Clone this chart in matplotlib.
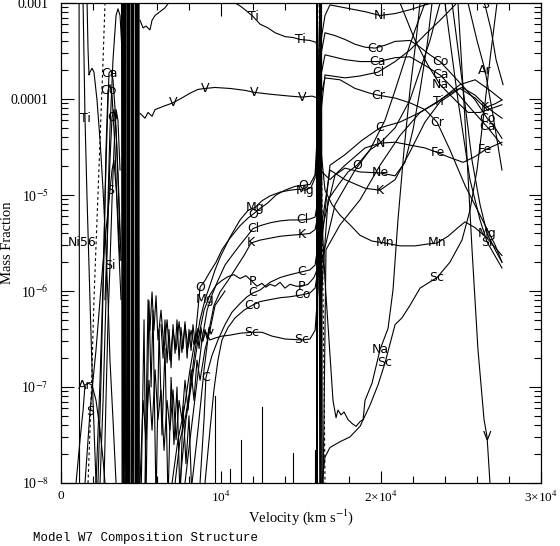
import numpy as np
import matplotlib
matplotlib.use("Agg")
import matplotlib.pyplot as plt
from matplotlib.ticker import FixedLocator, MultipleLocator, LogLocator, NullFormatter

nan = np.nan

# points are (velocity in 1000 km/s, log10 mass fraction); (nan, nan) breaks a line
ti_pts = [(1.38, -3.0), (1.44, -3.59), (1.5, -4.2), (1.63, -5.05), (1.81, -6.09), (2.0, -7.14), (2.19, -8.0), (nan, nan),
          (4.94, -3.18), (5.13, -3.26), (5.31, -3.24), (5.56, -3.28), (5.69, -3.18), (5.88, -3.13), (6.19, -3.09),
          (6.5, -3.05), (6.81, -2.98), (7.13, -2.9), (10.56, -2.9), (10.88, -3.0), (11.19, -3.03), (11.5, -3.07),
          (12.0, -3.14), (12.44, -3.22), (12.94, -3.26), (13.38, -3.31), (14.0, -3.35), (14.5, -3.36), (14.94, -3.38),
          (15.56, -3.39), (15.94, -3.41), (16.06, -3.49), (16.13, -4.32), (16.19, -6.09), (16.25, -8.2), (nan, nan),
          (16.38, -8.1), (16.56, -5.57), (17.44, -5.31), (18.69, -5.05), (19.94, -4.69), (21.19, -4.38), (22.44, -4.14),
          (23.56, -4.03), (24.94, -3.85), (25.88, -3.80), (26.81, -3.91), (27.56, -4.01)]
ti_lab = [1.5, 12.0, 14.94, 23.56]

v_pts = [(4.94, -4.15), (5.25, -4.2), (5.44, -4.14), (5.69, -4.18), (5.88, -4.11), (6.19, -4.09), (6.5, -4.07),
         (7.0, -4.04), (7.44, -4.0), (8.06, -3.94), (8.56, -3.9), (9.0, -3.89), (9.63, -3.88), (10.56, -3.89),
         (11.5, -3.91), (12.06, -3.93), (13.06, -3.95), (14.31, -3.97), (15.06, -3.98), (15.69, -3.97), (16.06, -3.99),
         (16.13, -5.05), (16.19, -8.0), (16.25, -8.4), (nan, nan),
         (24.81, -3.0), (25.25, -4.22), (25.69, -5.57), (26.06, -6.61), (26.44, -7.34), (26.63, -7.52), (26.81, -8.0)]
v_lab = [7.0, 9.0, 12.06, 15.06, 26.63]

mg_pts = [(7.13, -8.0), (7.44, -7.55), (7.75, -7.34), (8.06, -7.03), (8.38, -6.61), (8.69, -6.30), (9.0, -6.09),
          (9.31, -5.94), (9.63, -5.78), (9.94, -5.65), (10.56, -5.44), (11.19, -5.26), (11.69, -5.16), (12.13, -5.13),
          (12.56, -5.06), (13.06, -5.01), (13.69, -4.97), (14.31, -4.95), (14.81, -4.94), (15.25, -4.95), (15.63, -4.92),
          (15.88, -4.82), (16.06, -4.43), (16.13, -3.49), (16.19, -2.9), (nan, nan),
          (24.44, -3.0), (25.06, -3.80), (25.69, -4.64), (26.19, -5.10), (26.63, -5.40), (27.13, -5.57), (27.56, -5.70)]
mg_lab = [9.0, 12.13, 15.25, 26.63]

o_pts = [(2.75, -6.09), (2.94, -5.26), (3.06, -4.64), (3.19, -4.19), (3.31, -4.11), (3.44, -4.32), (3.56, -4.84),
         (3.69, -5.47), (nan, nan),
         (6.94, -8.0), (7.31, -7.55), (7.69, -7.24), (8.06, -6.82), (8.38, -6.51), (8.69, -5.96), (9.0, -5.89),
         (9.31, -5.80), (9.69, -5.70), (10.06, -5.57), (10.56, -5.45), (11.19, -5.32), (11.69, -5.24), (12.0, -5.20),
         (12.44, -5.14), (12.94, -5.08), (13.44, -5.0), (14.0, -4.95), (14.63, -4.91), (15.13, -4.90), (15.56, -4.89),
         (15.88, -4.79), (16.06, -4.22), (16.13, -3.39), (16.19, -2.9), (nan, nan),
         (16.22, -8.1), (16.25, -6.09), (16.69, -5.05), (17.31, -4.90), (17.94, -4.76), (18.5, -4.69), (19.31, -4.53),
         (20.25, -4.22), (20.88, -3.91), (21.5, -3.59), (22.13, -3.28), (22.75, -3.0)]
o_lab = [3.19, 8.69, 12.0, 15.13, 18.5]

cl_pts = [(7.75, -8.0), (8.06, -7.55), (8.44, -7.03), (8.81, -6.51), (9.13, -6.20), (9.44, -6.04), (9.81, -5.89),
          (10.25, -5.73), (10.69, -5.63), (11.19, -5.52), (11.63, -5.43), (12.0, -5.35), (12.44, -5.32), (13.06, -5.29),
          (13.69, -5.27), (14.31, -5.26), (15.06, -5.26), (15.56, -5.25), (15.88, -5.23), (16.06, -5.05), (16.13, -4.01),
          (16.19, -4.22), (16.5, -3.75), (17.75, -3.78), (18.69, -3.76), (19.81, -3.72), (20.88, -3.61), (21.81, -3.49),
          (22.75, -3.33), (23.69, -3.18), (24.63, -3.02), (24.94, -2.92)]
cl_lab = [12.0, 15.06, 19.81]

k_pts = [(8.19, -8.0), (8.56, -7.45), (8.94, -6.82), (9.25, -6.41), (9.56, -6.15), (9.94, -6.01), (10.44, -5.89),
         (10.94, -5.76), (11.44, -5.63), (11.88, -5.5), (12.44, -5.47), (13.06, -5.45), (13.69, -5.43), (14.31, -5.42),
         (15.06, -5.41), (15.56, -5.40), (15.88, -5.36), (16.06, -5.21), (16.13, -4.22), (16.19, -3.5), (16.25, -5.36),
         (16.81, -4.74), (17.75, -4.84), (19.0, -4.93), (19.94, -4.95), (20.88, -4.84), (21.81, -4.55), (22.75, -4.24),
         (23.69, -4.03), (24.94, -3.89), (25.88, -3.99), (26.5, -4.09), (27.13, -4.05), (27.56, -4.01)]
k_lab = [11.88, 15.06, 19.94, 26.5]

p_pts = [(7.44, -8.0), (7.81, -7.34), (8.19, -6.93), (8.56, -6.51), (8.94, -6.20), (9.31, -6.04), (9.69, -5.94),
         (10.06, -5.89), (10.44, -5.85), (10.81, -5.83), (11.19, -5.87), (11.56, -5.84), (11.94, -5.90), (12.25, -5.95),
         (12.56, -5.92), (12.81, -5.96), (13.06, -5.93), (13.38, -5.95), (13.69, -5.91), (14.0, -5.97), (14.31, -5.93),
         (14.69, -5.95), (15.06, -5.95), (15.44, -5.93), (15.81, -5.86), (16.0, -5.78), (16.13, -4.53), (16.19, -3.6)]
p_lab = [11.94, 15.06]

c_pts = [(8.69, -8.0), (8.94, -7.34), (9.06, -6.90), (9.44, -6.67), (9.81, -6.51), (10.25, -6.35), (10.69, -6.22),
         (11.19, -6.13), (11.63, -6.06), (12.0, -6.02), (12.44, -5.99), (13.06, -5.91), (13.69, -5.86), (14.31, -5.83),
         (15.06, -5.80), (15.56, -5.78), (15.88, -5.73), (16.06, -5.52), (16.13, -4.53), (16.19, -3.8), (16.25, -5.57),
         (16.81, -4.69), (17.75, -4.58), (18.81, -4.43), (19.94, -4.30), (21.19, -4.24), (22.44, -4.14), (23.69, -4.01),
         (24.63, -3.91), (25.06, -3.88), (25.88, -3.96), (26.81, -4.11), (27.56, -4.20)]
c_lab = [9.06, 12.0, 15.06, 19.94]

co_pts = [(2.31, -8.0), (2.5, -6.93), (2.69, -5.57), (2.81, -4.53), (2.94, -3.91), (3.06, -3.85), (3.19, -3.96),
          (3.38, -4.53), (3.56, -5.36), (3.75, -6.09), (nan, nan),
          (9.0, -8.0), (9.31, -7.45), (9.56, -7.03), (9.81, -6.72), (10.06, -6.51), (10.44, -6.38), (10.88, -6.28),
          (11.44, -6.20), (11.94, -6.15), (12.44, -6.11), (13.06, -6.09), (13.69, -6.07), (14.31, -6.06), (15.06, -6.04),
          (15.56, -6.02), (15.88, -5.97), (16.06, -5.78), (16.13, -4.53), (16.19, -3.59), (16.5, -3.31), (17.13, -3.34),
          (17.75, -3.38), (18.38, -3.43), (19.0, -3.46), (19.63, -3.47), (20.25, -3.44), (20.88, -3.40), (21.81, -3.39),
          (22.44, -3.46), (23.06, -3.54), (23.69, -3.61), (24.31, -3.72), (25.25, -3.89), (25.88, -4.01), (26.63, -4.20),
          (27.13, -4.30), (27.56, -4.41)]
co_lab = [2.94, 11.94, 15.06, 19.63, 23.69, 26.63]

sc_pts = [(5.25, -8.0), (5.44, -6.09), (5.56, -6.41), (5.69, -6.01), (5.81, -6.41), (5.94, -6.05), (6.06, -6.51),
          (6.25, -6.20), (6.44, -6.61), (6.63, -6.30), (6.81, -6.72), (7.0, -6.41), (7.19, -6.61), (7.38, -6.32),
          (7.56, -6.64), (7.75, -6.35), (7.94, -6.59), (8.13, -6.41), (8.31, -6.56), (8.56, -6.39), (8.81, -6.53),
          (9.06, -6.43), (9.31, -6.51), (9.63, -6.49), (10.06, -6.47), (10.56, -6.46), (11.19, -6.44), (11.94, -6.43),
          (12.56, -6.43), (13.19, -6.47), (14.0, -6.50), (15.06, -6.51), (15.56, -6.50), (15.88, -6.41), (16.06, -5.99),
          (16.13, -5.05), (16.19, -8.1), (nan, nan),
          (16.31, -8.0), (16.5, -7.73), (16.81, -7.63), (17.44, -7.57), (18.06, -7.52), (18.69, -7.41), (19.31, -7.19),
          (19.81, -6.98), (20.25, -6.75), (20.88, -6.35), (21.31, -6.28), (21.81, -6.15), (22.44, -5.97), (23.5, -5.86),
          (24.31, -5.70), (25.06, -5.47), (25.56, -5.16), (26.0, -4.74), (26.38, -4.22), (26.81, -3.59), (27.25, -3.0)]
sc_lab = [11.94, 15.06, 20.25, 23.5]

na_pts = [(16.25, -5.05), (16.5, -5.89), (16.75, -6.51), (17.0, -7.14), (17.19, -7.32), (17.31, -7.24), (17.5, -7.29),
          (17.69, -7.26), (17.94, -7.34), (18.19, -7.38), (18.44, -7.41), (18.69, -7.36), (18.88, -7.34), (19.0, -7.14),
          (19.44, -6.96), (19.94, -6.61), (20.44, -6.39), (20.75, -5.99), (21.06, -5.26), (21.44, -4.53), (21.81, -3.91),
          (22.19, -3.39), (22.44, -3.0), (nan, nan),
          (21.19, -3.0), (22.13, -3.39), (22.94, -3.65), (23.69, -3.85), (24.63, -4.01), (25.44, -4.14), (26.19, -4.14),
          (27.56, -4.06)]
na_lab = [19.94, 23.69]

ni_pts = [(2.44, -8.0), (2.63, -7.14), (2.81, -6.09), (2.94, -5.05), (3.06, -4.32), (3.25, -3.59), (3.44, -3.13),
          (3.56, -3.06), (3.69, -3.13), (3.81, -3.49), (nan, nan),
          (16.25, -3.39), (16.5, -3.13), (16.81, -3.02), (17.75, -3.05), (19.0, -3.09), (19.94, -3.13), (20.88, -3.11),
          (21.81, -3.07), (22.75, -3.02), (23.19, -3.0), (23.69, -2.92)]
ni_lab = [19.94]

ca_pts = [(2.19, -8.0), (2.44, -6.93), (2.63, -5.89), (2.75, -5.05), (2.88, -4.32), (3.0, -3.73), (3.13, -3.70),
          (3.25, -3.80), (3.38, -4.11), (3.5, -4.53), (3.63, -5.05), (3.75, -5.68), (nan, nan),
          (16.19, -3.80), (16.5, -3.54), (17.75, -3.59), (18.69, -3.61), (19.81, -3.61), (20.88, -3.57), (21.81, -3.56),
          (22.75, -3.65), (23.69, -3.75), (24.63, -3.91), (25.56, -4.09), (26.63, -4.29), (27.56, -4.48)]
ca_lab = [3.0, 19.81, 23.69, 26.63]

cr_pts = [(1.63, -3.0), (1.69, -3.49), (1.75, -3.75), (1.81, -3.72), (1.94, -3.68), (2.06, -3.72), (2.25, -4.01),
          (2.44, -4.43), (2.63, -4.95), (2.81, -5.57), (2.94, -6.09), (3.06, -6.72), (3.25, -7.34), (3.44, -8.0), (nan, nan),
          (16.19, -4.01), (16.5, -3.78), (17.44, -3.80), (18.38, -3.89), (19.31, -3.94), (19.81, -3.96), (20.88, -3.99),
          (21.81, -4.04), (22.75, -4.11), (23.5, -4.24), (24.31, -4.53), (25.25, -4.90), (26.19, -5.21), (27.13, -5.52),
          (27.56, -5.70)]
cr_lab = [19.81, 23.5]

fe_pts = [(1.13, -2.9), (1.16, -8.1), (nan, nan),
          (16.19, -4.74), (16.81, -4.84), (17.75, -4.69), (19.0, -4.51), (19.94, -4.46), (20.88, -4.45), (21.81, -4.48),
          (22.75, -4.51), (23.56, -4.56), (24.31, -4.61), (25.13, -4.66), (25.88, -4.60), (26.5, -4.53), (27.56, -4.45)]
fe_lab = [23.56, 26.5]

n_pts = [(16.31, -5.68), (17.13, -5.10), (18.38, -4.74), (19.31, -4.53), (19.94, -4.46), (20.88, -4.30), (21.81, -4.01),
         (22.44, -3.70), (23.06, -3.39), (23.69, -3.0)]
n_lab = [19.94]

ne_pts = [(16.31, -5.36), (17.13, -4.79), (17.75, -4.72), (18.69, -4.76), (19.94, -4.77), (20.88, -4.80), (21.5, -4.66),
          (22.0, -4.32), (22.44, -3.91), (22.88, -3.44), (23.19, -3.0)]
ne_lab = [19.94]

mn_pts = [(16.25, -4.53), (16.5, -4.95), (16.94, -5.10), (17.44, -5.21), (18.06, -5.31), (18.69, -5.42), (19.44, -5.48),
          (20.25, -5.5), (21.19, -5.53), (22.13, -5.53), (22.94, -5.51), (23.5, -5.5), (24.19, -5.43), (24.81, -5.34),
          (25.25, -5.28), (25.88, -5.34), (26.63, -5.45), (27.56, -5.63)]
mn_lab = [20.25, 23.5]

ar_pts = [(0.94, -8.0), (1.19, -7.55), (1.38, -7.24), (1.5, -6.98), (1.69, -6.96), (1.94, -6.98), (2.19, -7.14),
          (2.44, -7.45), (2.63, -7.76), (2.75, -8.0), (nan, nan),
          (25.44, -3.0), (26.0, -3.39), (26.5, -3.70), (26.94, -4.11), (27.56, -4.74)]
ar_lab = [1.5, 26.5]

s_pts = [(1.5, -8.0), (1.69, -7.55), (1.81, -7.26), (2.0, -6.93), (2.19, -6.61), (2.44, -6.09), (2.69, -5.57),
         (2.94, -5.16), (3.06, -4.95), (3.19, -4.74), (3.31, -4.64), (3.5, -5.05), (3.69, -5.68), (nan, nan),
         (26.06, -2.92), (26.5, -3.02), (26.88, -3.28), (27.19, -3.59), (27.63, -3.85)]
s_lab = [1.81, 3.06, 26.5]

si_pts = [(2.69, -8.0), (2.81, -7.14), (2.94, -6.30), (3.06, -5.73), (3.19, -5.05), (3.31, -4.53), (3.44, -4.11),
          (3.56, -4.22), (3.69, -4.74), (nan, nan),
          (24.0, -3.0), (24.81, -4.01), (25.56, -4.84), (26.19, -5.26), (26.63, -5.49), (27.56, -5.76)]
si_lab = [3.06, 26.63]

al_pts = [(4.94, -8.0), (5.13, -7.14), (5.31, -7.55), (5.5, -6.93), (5.69, -7.45), (5.88, -6.82), (6.06, -7.34),
          (6.25, -7.03), (6.44, -7.66), (6.63, -7.14), (6.81, -7.45), (7.0, -7.03), (7.19, -7.55), (7.38, -7.14),
          (7.56, -7.34), (7.75, -6.93), (7.94, -7.24), (8.13, -6.82), (8.31, -7.14), (8.5, -6.72), (8.69, -6.93),
          (9.0, -6.61), (9.31, -6.41), (9.63, -6.15), (10.25, -6.0)]
al_lab = []

ni56_pts = [(1.69, -8.0), (1.88, -7.14), (2.06, -6.09), (2.19, -5.52), (2.25, -5.26), (2.44, -4.43), (2.63, -3.59),
            (2.75, -3.0), (2.8, -2.7), (nan, nan),
            (16.13, -2.7), (16.13, -3.0), (16.31, -5.05), (16.44, -6.93), (16.5, -8.0), (16.52, -8.2)]
ni56_lab = [2.19]

# jagged low-abundance traces between 5000 and 9500 km/s
noise1_pts = [(6.25, -6.35), (6.38, -6.7), (6.5, -6.3), (6.63, -6.75), (6.75, -6.4), (6.88, -6.8), (7.0, -6.35),
              (7.13, -6.65), (7.25, -6.3), (7.38, -6.72), (7.5, -6.38), (7.63, -6.6), (7.75, -6.32), (7.88, -6.7),
              (8.0, -6.4), (8.13, -6.62), (8.25, -6.35), (8.38, -6.55), (8.5, -6.42), (8.63, -6.6), (8.75, -6.38),
              (8.88, -6.52), (9.0, -6.4), (9.13, -6.5), (9.25, -6.38), (9.38, -6.45), (9.5, -6.4)]
noise2_pts = [(5.0, -8.2), (5.19, -6.3), (5.31, -8.2), (5.5, -6.1), (5.63, -7.0), (5.75, -6.2), (5.94, -8.2),
              (6.13, -6.4), (6.31, -7.5), (6.5, -6.6), (6.69, -8.2), (6.88, -6.9), (7.06, -7.6), (7.25, -7.0),
              (7.44, -8.2), (7.63, -7.2), (7.81, -7.8), (8.0, -7.3), (8.19, -8.2)]

# dense oscillating zone near 4000 km/s and the burning front near 16000 km/s
band_pts = [(3.78, -2.5), (3.82, -8.5), (3.86, -2.5), (3.90, -8.5), (3.94, -2.5), (3.98, -8.5), (4.02, -2.5),
            (4.06, -8.5), (nan, nan), (4.11, -2.5), (4.14, -8.5), (4.18, -2.5), (4.22, -8.5), (4.26, -2.5),
            (4.30, -8.5), (nan, nan), (4.37, -2.5), (4.40, -8.5), (4.44, -2.5), (4.48, -8.5), (4.52, -2.5),
            (4.56, -8.5), (nan, nan), (4.63, -2.5), (4.66, -8.5), (4.70, -2.5), (4.74, -8.5), (4.78, -2.5),
            (4.82, -8.5), (4.86, -2.5), (4.90, -8.5)]
front_pts = [(15.97, -8.2), (16.0, -2.9), (16.03, -8.2), (nan, nan), (16.2, -2.9), (16.24, -8.2), (16.28, -2.9),
             (16.33, -8.2)]
tail_pts = [(9.63, -8.2), (9.63, -7.09), (nan, nan), (10.56, -8.2), (10.56, -7.85), (nan, nan), (11.25, -8.2),
            (11.25, -7.55), (nan, nan), (12.56, -8.2), (12.56, -7.21), (nan, nan), (14.5, -8.2), (14.5, -7.69),
            (nan, nan), (15.88, -8.2), (15.88, -7.66)]

curves = [("Ti", ti_pts, ti_lab), ("V", v_pts, v_lab), ("Mg", mg_pts, mg_lab), ("O", o_pts, o_lab),
          ("Cl", cl_pts, cl_lab), ("K", k_pts, k_lab), ("P", p_pts, p_lab), ("C", c_pts, c_lab),
          ("Co", co_pts, co_lab), ("Sc", sc_pts, sc_lab), ("Na", na_pts, na_lab), ("Ni", ni_pts, ni_lab),
          ("Ca", ca_pts, ca_lab), ("Cr", cr_pts, cr_lab), ("Fe", fe_pts, fe_lab), ("N", n_pts, n_lab),
          ("Ne", ne_pts, ne_lab), ("Mn", mn_pts, mn_lab), ("Ar", ar_pts, ar_lab), ("S", s_pts, s_lab),
          ("Si", si_pts, si_lab), ("Al", al_pts, al_lab), ("", noise1_pts, []), ("", noise2_pts, []),
          ("", band_pts, []), ("", front_pts, []), ("", tail_pts, [])]

plt.rcParams["mathtext.fontset"] = "stix"
serif = "Liberation Serif"

fig = plt.figure(figsize=(5.6, 5.46), dpi=100)
ax = fig.add_axes([61 / 560, 63 / 546, 480 / 560, 480 / 546])
ax.set_yscale("log")

lab_font = dict(family="DejaVu Sans", fontsize=9, ha="center", va="center", clip_on=True)

for name, pts, lab in curves:
    arr = np.array(pts, dtype=float)
    vel = arr[:, 0] * 1000
    frac = 10 ** arr[:, 1]
    ax.plot(vel, frac, color="black", lw=0.8)
    for lv in lab:
        i = np.nanargmin(np.abs(arr[:, 0] - lv))
        ax.text(vel[i], frac[i], name, **lab_font)

arr = np.array(ni56_pts, dtype=float)
ax.plot(arr[:, 0] * 1000, 10 ** arr[:, 1], color="black", lw=0.8, ls=(0, (2.5, 2.5)))
for lv in ni56_lab:
    i = np.nanargmin(np.abs(arr[:, 0] - lv))
    ax.annotate("Ni56", (arr[i, 0] * 1000, 10 ** arr[i, 1]), xytext=(0, 2), textcoords="offset points",
                family="DejaVu Sans", fontsize=9, ha="right", va="center")

ax.set_xlim(0, 30000)
ax.set_ylim(1e-8, 1e-3)

ax.xaxis.set_major_locator(FixedLocator([0, 1e4, 2e4, 3e4]))
ax.xaxis.set_minor_locator(MultipleLocator(2000))
ax.set_xticklabels(["0", r"10$^4$", r"2×10$^4$", r"3×10$^4$"], family=serif, fontsize=9.5)
ax.yaxis.set_major_locator(FixedLocator([1e-8, 1e-7, 1e-6, 1e-5, 1e-4, 1e-3]))
ax.yaxis.set_minor_locator(LogLocator(base=10, subs=np.arange(2, 10), numticks=20))
ax.yaxis.set_minor_formatter(NullFormatter())
ax.set_yticklabels([r"10$^{-8}$", r"10$^{-7}$", r"10$^{-6}$", r"10$^{-5}$", "0.0001", "0.001"],
                   family=serif, fontsize=10)
ax.tick_params(which="both", direction="in", top=True, right=True, width=0.8)
ax.tick_params(which="major", length=9)
ax.tick_params(which="minor", length=5)
ax.tick_params(axis="y", pad=9)
ax.tick_params(axis="x", pad=5)
for sp in ax.spines.values():
    sp.set_linewidth(0.9)

fig.text(301 / 560, 1 - 517 / 546, r"Velocity (km s$^{-1}$)", family=serif, fontsize=10.5,
         ha="center", va="center")
fig.text(8 / 560, 1 - 243 / 546, "Mass Fraction", family=serif, fontsize=10.5, rotation=90,
         ha="center", va="center")
fig.text(33 / 560, 1 - 538 / 546, "Model W7 Composition Structure", family="Liberation Mono", fontsize=9,
         ha="left", va="center")

fig.savefig("out.png", dpi=100)
